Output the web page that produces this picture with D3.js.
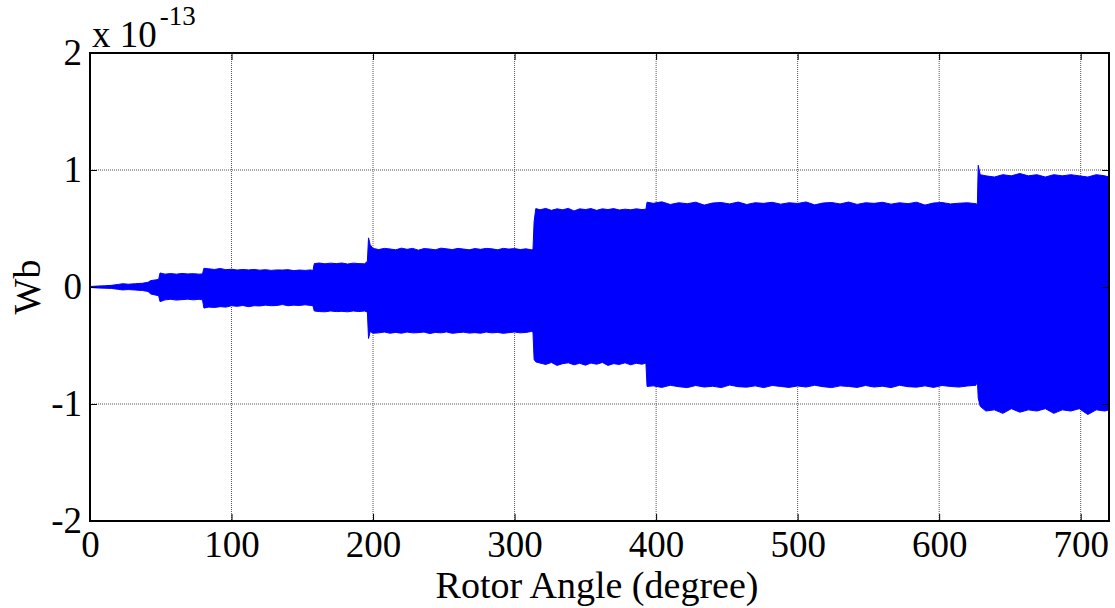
<!DOCTYPE html>
<html>
<head>
<meta charset="utf-8">
<script src="https://cdn.jsdelivr.net/npm/d3@7"></script>
<style>
  html, body { margin: 0; padding: 0; background: #fff; }
  svg { display: block; }
  text { font-family: "Liberation Serif", "Times New Roman", serif; fill: #000; }
</style>
</head>
<body>
<svg id="chart" width="1115" height="608"></svg>
<script>
// ---- data (flux, in units of 1e-13 Wb) ----
const xTicks = [0, 100, 200, 300, 400, 500, 600, 700];
const yTicks = [-2, -1, 0, 1, 2];
const yTickLabels = ["-2", "-1", "0", "1", "2"];
const xLabel = "Rotor Angle (degree)";
const yLabel = "Wb";
const exponentBase = "x 10";
const exponentPower = "-13";

// envelope samples: rotor angle, upper peak, lower peak
const angle = [0,5,10,15,20,23,27,32,37,41,43,46,48.5,
  49.5,53,57,61,65,69,73,77,79.5,
  80.5,84,88,92,96,100,104,108,112,116,120,124,128,132,136,140,144,148,152,156,157.5,
  158.5,162,166,170,174,178,182,186,190,194,196,
  196.8,198,200,204,208,212,216,220,224,228,232,236,240,244,248,252,256,260,264,268,272,276,280,284,288,292,296,300,304,308,312,313,
  313.8,315,318,322,326,330,334,338,342,346,350,354,358,362,366,370,374,378,382,386,390,392.8,
  393.6,398,404,410,416,422,428,434,440,446,452,458,464,470,476,482,488,494,500,506,512,518,524,530,536,542,548,554,560,566,572,578,584,590,596,602,608,614,620,626,627,
  627.6,629,633,639,645,651,657,663,669,675,681,687,693,699,705,711,717,720];
const upper = [0.004,0.008,0.010,0.014,0.022,0.028,0.024,0.028,0.032,0.040,0.055,0.060,0.065,
  0.120,0.110,0.115,0.110,0.116,0.112,0.114,0.110,0.112,
  0.160,0.155,0.150,0.158,0.148,0.152,0.145,0.150,0.146,0.150,0.144,0.148,0.142,0.146,0.145,0.148,0.140,0.145,0.142,0.146,0.140,
  0.200,0.205,0.198,0.204,0.200,0.205,0.196,0.204,0.200,0.198,0.220,
  0.420,0.360,0.330,0.320,0.330,0.325,0.318,0.332,0.322,0.330,0.315,0.328,0.325,0.318,0.332,0.326,0.320,0.330,0.324,0.318,0.328,0.322,0.330,0.326,0.318,0.330,0.324,0.328,0.320,0.326,0.318,0.320,
  0.560,0.670,0.660,0.672,0.655,0.668,0.660,0.672,0.650,0.668,0.662,0.670,0.655,0.668,0.662,0.670,0.658,0.665,0.660,0.668,0.662,0.665,
  0.725,0.715,0.728,0.705,0.720,0.712,0.725,0.700,0.718,0.722,0.710,0.726,0.705,0.720,0.715,0.724,0.708,0.720,0.714,0.727,0.702,0.718,0.722,0.710,0.726,0.706,0.720,0.715,0.724,0.708,0.720,0.712,0.725,0.700,0.718,0.722,0.710,0.716,0.720,0.712,0.705,
  1.040,0.960,0.950,0.940,0.960,0.950,0.970,0.950,0.960,0.940,0.960,0.950,0.960,0.950,0.940,0.960,0.950,0.940];
const lower = [-0.004,-0.008,-0.010,-0.012,-0.020,-0.025,-0.022,-0.026,-0.030,-0.038,-0.060,-0.068,-0.075,
  -0.125,-0.110,-0.105,-0.112,-0.108,-0.104,-0.110,-0.105,-0.110,
  -0.180,-0.172,-0.175,-0.168,-0.172,-0.160,-0.165,-0.158,-0.168,-0.160,-0.162,-0.155,-0.160,-0.158,-0.150,-0.160,-0.155,-0.158,-0.152,-0.158,-0.160,
  -0.205,-0.210,-0.212,-0.205,-0.210,-0.208,-0.212,-0.205,-0.210,-0.205,-0.215,
  -0.440,-0.380,-0.395,-0.392,-0.385,-0.395,-0.388,-0.395,-0.385,-0.392,-0.390,-0.385,-0.398,-0.388,-0.392,-0.384,-0.396,-0.390,-0.386,-0.394,-0.390,-0.395,-0.385,-0.392,-0.388,-0.396,-0.390,-0.385,-0.392,-0.388,-0.380,-0.385,
  -0.620,-0.640,-0.650,-0.662,-0.645,-0.670,-0.655,-0.648,-0.665,-0.652,-0.668,-0.650,-0.660,-0.645,-0.670,-0.655,-0.662,-0.648,-0.665,-0.652,-0.660,-0.650,
  -0.850,-0.845,-0.858,-0.840,-0.852,-0.860,-0.842,-0.855,-0.848,-0.860,-0.838,-0.852,-0.856,-0.845,-0.860,-0.842,-0.850,-0.858,-0.846,-0.855,-0.840,-0.852,-0.860,-0.845,-0.850,-0.858,-0.842,-0.855,-0.848,-0.860,-0.840,-0.852,-0.856,-0.845,-0.858,-0.842,-0.850,-0.855,-0.846,-0.840,-0.800,
  -0.950,-1.020,-1.060,-1.050,-1.080,-1.040,-1.070,-1.050,-1.060,-1.040,-1.080,-1.050,-1.060,-1.040,-1.090,-1.050,-1.060,-1.050];

// ---- layout ----
const svg = d3.select("#chart");
const margin = { left: 90, right: 6, top: 53, bottom: 87 };
const W = 1115, H = 608;
const x = d3.scaleLinear().domain([0, 720]).range([margin.left, W - margin.right]);
const y = d3.scaleLinear().domain([-2, 2]).range([H - margin.bottom, margin.top]);

const tickFont = 37;
const labelFont = 38;

// grid
const grid = svg.append("g");
grid.selectAll("line.vx").data(xTicks.filter(d => d > 0)).join("line")
  .attr("x1", d => x(d)).attr("x2", d => x(d))
  .attr("y1", y(2)).attr("y2", y(-2))
  .attr("stroke", "#555").attr("stroke-width", 1).attr("stroke-dasharray", "1,1");
grid.selectAll("line.hy").data(yTicks.filter(d => d > -2 && d < 2)).join("line")
  .attr("y1", d => y(d)).attr("y2", d => y(d))
  .attr("x1", x(0)).attr("x2", x(720))
  .attr("stroke", "#555").attr("stroke-width", 1).attr("stroke-dasharray", "1,1");

// signal envelope
const pts = angle.map((a, i) => ({ a, u: upper[i], l: lower[i] }));
const area = d3.area().x(d => x(d.a)).y0(d => y(d.l)).y1(d => y(d.u)).curve(d3.curveLinear);
svg.append("path").datum(pts).attr("d", area)
  .attr("fill", "#0000ff").attr("stroke", "#0000ff").attr("stroke-width", 1);

// axes with inward ticks
const tickLen = 7;
const xAxisB = d3.axisBottom(x).tickValues(xTicks).tickSizeInner(-tickLen).tickSizeOuter(0).tickPadding(10).tickFormat(d3.format("d"));
const xAxisT = d3.axisTop(x).tickValues(xTicks).tickSizeInner(-tickLen).tickSizeOuter(0).tickFormat("");
const yAxisL = d3.axisLeft(y).tickValues(yTicks).tickSizeInner(-tickLen).tickSizeOuter(0).tickPadding(8)
  .tickFormat((d, i) => yTickLabels[i]);
const yAxisR = d3.axisRight(y).tickValues(yTicks).tickSizeInner(-tickLen).tickSizeOuter(0).tickFormat("");

function style(g) {
  g.select(".domain").remove();
  g.selectAll(".tick line").attr("stroke", "#000").attr("stroke-width", 1);
  g.selectAll("text").attr("font-size", tickFont).attr("font-family", '"Liberation Serif", serif').attr("fill", "#000");
}
svg.append("g").attr("transform", `translate(0,${y(-2)})`).call(xAxisB).call(style);
svg.append("g").attr("transform", `translate(0,${y(2)})`).call(xAxisT).call(style);
svg.append("g").attr("transform", `translate(${x(0)},0)`).call(yAxisL).call(style);
svg.append("g").attr("transform", `translate(${x(720)},0)`).call(yAxisR).call(style);

// box
svg.append("rect").attr("x", x(0)).attr("y", y(2))
  .attr("width", x(720) - x(0)).attr("height", y(-2) - y(2))
  .attr("fill", "none").attr("stroke", "#000").attr("stroke-width", 2);

// labels
svg.append("text").attr("x", 597).attr("y", 598)
  .attr("text-anchor", "middle").attr("font-size", labelFont).text(xLabel);
svg.append("text").attr("transform", `translate(40,287) rotate(-90)`)
  .attr("text-anchor", "middle").attr("font-size", labelFont).text(yLabel);

const ex = svg.append("text").attr("x", 92).attr("y", 47).attr("font-size", tickFont);
ex.append("tspan").text(exponentBase);
ex.append("tspan").attr("dy", -22).attr("dx", 3).attr("font-size", 27).text(exponentPower);
</script>
</body>
</html>
